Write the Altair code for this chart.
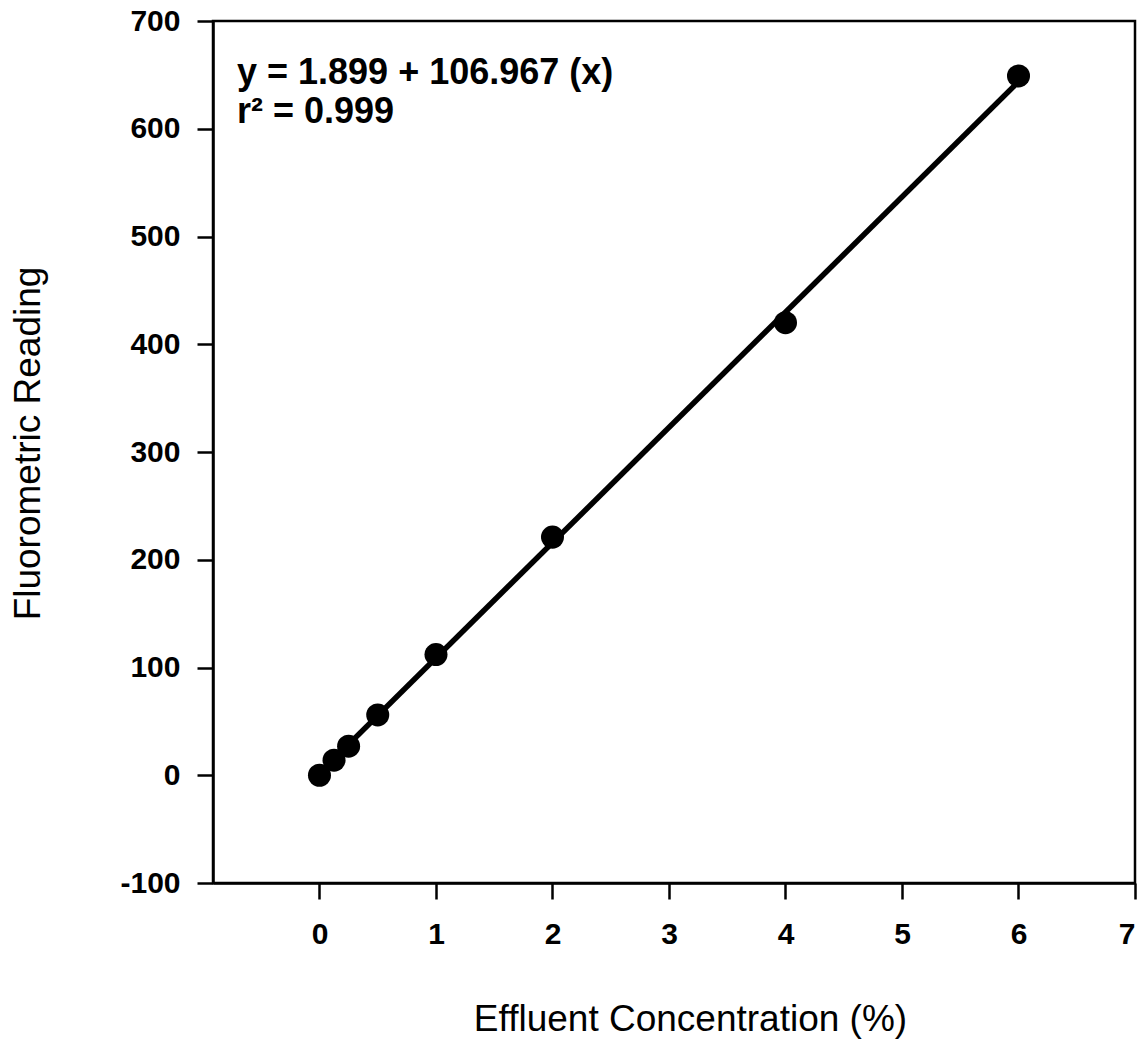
import altair as alt
import pandas as pd

# Calibration standards: effluent concentration (%) vs fluorometric reading
concentration = [0, 0.125, 0.25, 0.5, 1, 2, 4, 6]
reading = [0, 14, 27, 56, 112, 221, 420, 649]

# Least-squares fit reported on the chart
intercept = 1.899
slope = 106.967
r_squared = 0.999

x_ticks = [0, 1, 2, 3, 4, 5, 6, 7]
y_ticks = [-100, 0, 100, 200, 300, 400, 500, 600, 700]

points = pd.DataFrame({"conc": concentration, "reading": reading})
fit_x = [0, 6]
fit = pd.DataFrame({"conc": fit_x, "reading": [intercept + slope * v for v in fit_x]})

FONT = "Liberation Sans"

x_scale = alt.Scale(domain=[-0.914, 7], nice=False, zero=False)
y_scale = alt.Scale(domain=[-100, 700], nice=False, zero=False)

x_enc = alt.X(
    "conc:Q",
    scale=x_scale,
    axis=alt.Axis(
        values=x_ticks,
        labelExpr="'' + datum.value",
        title="Effluent Concentration (%)",
        titleX=477,
        grid=False,
        tickSize=16,
        labelPadding=20,
        titlePadding=52,
    ),
)
y_enc = alt.Y(
    "reading:Q",
    scale=y_scale,
    axis=alt.Axis(
        values=y_ticks,
        labelExpr="'' + datum.value",
        title="Fluorometric Reading",
        titleY=422,
        grid=False,
        tickSize=16,
        labelPadding=17,
        titlePadding=72,
    ),
)

base_line = alt.Chart(fit).mark_line(color="black", strokeWidth=5.5).encode(x=x_enc, y=y_enc)

dots = alt.Chart(points).mark_circle(color="black", opacity=1, size=530).encode(
    x=alt.X("conc:Q", scale=x_scale),
    y=alt.Y("reading:Q", scale=y_scale),
)

text_style = dict(
    align="left",
    baseline="alphabetic",
    font=FONT,
    fontSize=36,
    fontWeight="bold",
    color="black",
)

eq_line = alt.Chart(pd.DataFrame({"label": [f"y = {intercept:.3f} + {slope:.3f} (x)"]})).mark_text(
    **text_style
).encode(x=alt.value(24), y=alt.value(63), text="label:N")

r2_line = alt.Chart(pd.DataFrame({"label": [f"r\u00b2 = {r_squared:.3f}"]})).mark_text(
    **text_style
).encode(x=alt.value(24), y=alt.value(102), text="label:N")

chart = (
    alt.layer(base_line, dots, eq_line, r2_line)
    .properties(
        width=922,
        height=862,
        autosize=alt.AutoSizeParams(type="none"),
        padding={"left": 213, "top": 21, "right": 13, "bottom": 163},
        background="white",
    )
    .configure_view(stroke="black", strokeWidth=2.5)
    .configure_axis(
        domainColor="black",
        domainWidth=2.5,
        tickColor="black",
        tickWidth=2.5,
        labelFont=FONT,
        labelFontSize=30,
        labelFontWeight="bold",
        labelColor="black",
        titleFont=FONT,
        titleFontSize=37,
        titleFontWeight="normal",
        titleColor="black",
    )
)

chart.save("out.html", embed_options={"renderer": "svg", "actions": False})
